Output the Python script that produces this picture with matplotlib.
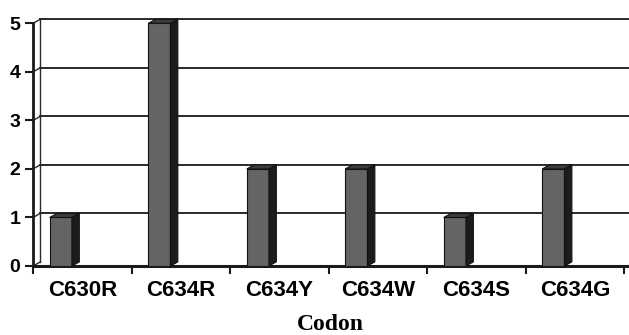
import matplotlib.pyplot as plt
from matplotlib.patches import Polygon

codons = ["C630R", "C634R", "C634Y", "C634W", "C634S", "C634G"]
counts = [1, 5, 2, 2, 1, 2]
y_ticks = [0, 1, 2, 3, 4, 5]

# fake 3D depth, in data units
DX = 0.075
DY = 0.085
BAR_OFF = 0.17
BAR_W = 0.225

fig = plt.figure(figsize=(6.29, 3.35), dpi=100)
ax = fig.add_axes([33 / 629, 69 / 335, 596 / 629, 248 / 335])
ax.set_xlim(0, 6.05)
ax.set_ylim(0, 5.11)

# back wall: gridlines shifted up/right, joined to the front ticks
for k in y_ticks:
    if k > 0:
        ax.plot([DX, 6.05], [k + DY, k + DY], color="#2a2a2a", lw=1.4, zorder=1)
    ax.plot([0, DX], [k, k + DY], color="#2a2a2a", lw=1.0, zorder=1)
ax.plot([DX, DX], [DY, 5 + DY], color="#2a2a2a", lw=1.0, zorder=1)

xs = [i + BAR_OFF for i in range(len(codons))]
ax.bar(xs, counts, width=BAR_W, align="edge", color="#646464",
       edgecolor="#111111", linewidth=0.8, zorder=3)
for x0, v in zip(xs, counts):
    x1 = x0 + BAR_W
    side = Polygon([(x1, 0), (x1 + DX, DY), (x1 + DX, v + DY), (x1, v)],
                   closed=True, facecolor="#1c1c1c", edgecolor="#111111",
                   linewidth=0.8, zorder=3)
    top = Polygon([(x0, v), (x0 + DX, v + DY), (x1 + DX, v + DY), (x1, v)],
                  closed=True, facecolor="#3c3c3c", edgecolor="#111111",
                  linewidth=0.8, zorder=3)
    ax.add_patch(side)
    ax.add_patch(top)

for s in ["top", "right"]:
    ax.spines[s].set_visible(False)
ax.spines["left"].set_bounds(0, 5)
ax.spines["left"].set_linewidth(2)
ax.spines["bottom"].set_linewidth(2.2)
ax.spines["left"].set_color("#1a1a1a")
ax.spines["bottom"].set_color("#1a1a1a")

ax.set_yticks(y_ticks)
ax.set_yticklabels([str(t) for t in y_ticks], fontsize=14,
                   fontweight="bold", family="Liberation Sans")
ax.tick_params(axis="y", length=6, width=1.5, pad=3, color="#1a1a1a")

ax.set_xticks(range(len(codons) + 1))
ax.set_xticklabels([])
ax.set_xticks([i + 0.5 for i in range(len(codons))], minor=True)
ax.set_xticklabels(codons, minor=True, fontsize=16, fontweight="bold",
                   family="Liberation Sans")
ax.tick_params(axis="x", which="major", length=6, width=1.5, color="#1a1a1a")
ax.tick_params(axis="x", which="minor", length=0, pad=10)

fig.text(330 / 629, 1 - 325 / 335, "Codon", ha="center", va="center",
         fontsize=17, fontweight="bold", family="Liberation Serif")

fig.savefig("out.png", dpi=100)
